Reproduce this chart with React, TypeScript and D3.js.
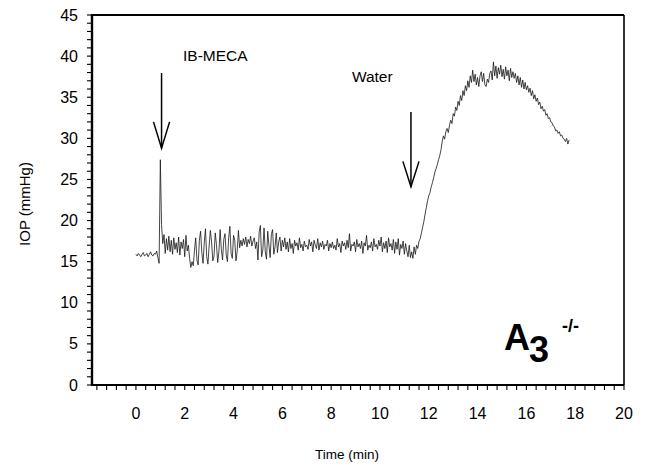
import React from 'react';
import * as d3 from 'd3';

// ---- Data (IOP trace sampled every 0.05 min from t = 0) ----
const sampleStart = 0;
const sampleStep = 0.05;

const baselineIOP = [
  15.9, 15.7, 16.0, 15.8, 15.6, 15.9, 16.1, 15.7, 15.8, 16.0,
  15.6, 15.9, 16.2, 15.8, 15.7, 16.0, 15.9, 16.3, 15.5, 14.8,
];
const injectionSpike = [27.4];
const postInjectionIOP = [
  19.5, 17.2, 18.3, 16.0, 17.8, 16.4, 18.1, 16.2, 17.6, 15.9, 17.9, 16.5,
  17.3, 16.1, 18.0, 15.8, 17.4, 16.6, 17.7, 15.6, 18.2, 16.3, 17.0, 15.4,
];
const oscillationIOP = [
  14.3, 15.0, 14.5, 16.4, 17.9, 15.2, 14.6, 17.6, 18.7, 16.1,
  14.8, 17.3, 19.0, 15.6, 14.7, 16.9, 18.8, 17.4, 15.1, 15.7,
  18.5, 17.1, 14.9, 16.2, 18.9, 16.5, 15.2, 17.7, 18.4, 15.8,
  15.0, 17.9, 19.3, 16.0, 15.4, 18.2, 17.6, 15.1, 16.3, 18.8, 16.7,
  17.6, 16.9, 17.8, 17.1, 18.0, 16.8, 17.7, 17.2, 18.1, 16.9, 17.5, 17.9, 16.6, 17.4,
  15.2, 18.6, 19.4, 15.6, 16.4, 19.1, 16.2, 15.3, 18.7, 17.0, 15.5, 18.3,
  18.9, 15.9, 16.8, 18.5, 16.1, 17.4, 18.0, 16.3, 17.6, 16.8, 17.9,
];
const steadyIOP = [
  16.5, 17.4, 16.2, 17.8, 16.6, 17.2, 16.0, 17.6, 16.9, 17.3,
  16.4, 17.9, 16.7, 17.1, 16.3, 17.5, 16.8, 17.0, 16.5, 17.7,
  16.9, 17.4, 16.2, 17.6, 17.0, 16.6, 17.8, 16.4, 17.3, 16.8,
  17.5, 16.5, 17.1, 16.9, 17.6, 16.3, 17.2, 16.7, 17.4, 16.6,
  17.0, 16.4, 17.8, 16.8, 17.2, 16.1, 17.5, 16.9, 17.3, 16.5,
  17.6, 16.7, 18.4, 16.3, 17.1, 16.9, 17.4, 16.2, 17.7, 16.8,
  17.2, 16.6, 17.5, 16.0, 17.3, 16.9, 18.2, 16.4, 17.0, 16.7,
  17.4, 16.3, 17.8, 16.8, 17.1, 16.5, 17.6, 16.9, 18.0, 16.2,
  17.3, 16.6, 17.5, 16.1, 17.9, 16.8, 17.2, 16.4, 17.7, 16.0,
  17.4, 16.5, 17.8, 15.8, 17.1, 16.6, 17.5, 15.9, 17.2, 16.3,
  15.6, 17.0, 15.5,
];
const waterLoadIOP = [
  16.2, 15.4, 16.8, 15.9, 17.0, 16.6, 17.5,
  17.8, 18.5, 19.2, 19.9, 20.8, 21.6, 22.4, 23.0,
  23.4, 24.1, 24.6, 25.2, 25.9, 26.3, 26.8, 27.4, 27.9, 28.6,
  29.6, 30.3, 29.9, 30.8, 31.2, 30.7, 31.6, 32.2, 31.8, 33.0,
  32.7, 33.8, 33.4, 34.5, 34.0, 35.2, 34.6, 35.8, 35.2, 36.4,
  35.8, 37.0, 36.2, 37.6, 36.8, 38.3, 36.9, 37.8, 36.5, 37.4,
  36.3, 37.6, 38.1, 36.9, 37.9, 36.5, 36.3, 37.2, 36.8, 37.9,
  38.2, 37.1, 39.3, 37.6, 38.8, 37.3, 38.6, 37.8, 38.9, 37.5,
  38.4, 37.2, 38.7, 37.6, 38.3, 37.0, 38.5, 37.4, 38.1, 37.3,
  37.9, 36.8, 37.6, 36.5, 37.4, 36.2, 37.1, 36.0, 36.8, 35.9,
  36.4, 35.6, 36.1, 35.2, 35.8, 34.8, 35.3, 34.5, 34.9, 34.1,
  34.4, 33.6, 33.9, 33.3, 33.5, 32.8, 33.0, 32.4, 32.5, 32.0,
  31.9, 31.5, 31.4, 30.9, 31.0, 30.6, 30.8, 30.3, 30.4, 30.0,
  29.9, 29.6, 30.0, 29.3, 29.8,
];

const xTickLabels = [0, 2, 4, 6, 8, 10, 12, 14, 16, 18, 20];
const yTickLabels = [0, 5, 10, 15, 20, 25, 30, 35, 40, 45];

const annotations = [
  { label: 'IB-MECA', t: 1.05, top: 37.95, tip: 28.8, headStart: 32.0, textT: 1.93, textV: 39.4 },
  { label: 'Water', t: 11.27, top: 33.2, tip: 24.1, headStart: 27.2, textT: 8.85, textV: 36.8 },
];

const W = 648;
const H = 468;
const FONT = '"Liberation Sans", Arial, Helvetica, sans-serif';

export default function App() {
  const x = d3.scaleLinear().domain([-1.8, 20]).range([92, 624]);
  const y = d3.scaleLinear().domain([0, 45]).range([385, 15]);

  const values = [
    ...baselineIOP,
    ...injectionSpike,
    ...postInjectionIOP,
    ...oscillationIOP,
    ...steadyIOP,
    ...waterLoadIOP,
  ];
  const points: [number, number][] = values.map((v, i) => [sampleStart + i * sampleStep, v]);
  const line = d3
    .line<[number, number]>()
    .x((d) => x(d[0]))
    .y((d) => y(d[1]));

  const xMinor = d3.range(-4, 51).map((i) => +(i * 0.4).toFixed(2));
  const yMinor = d3.range(0, 46);

  return (
    <svg
      width={W}
      height={H}
      style={{ position: 'absolute', left: 0, top: 0, background: '#fff' }}
      fontFamily={FONT}
    >
      <rect x={0} y={0} width={W} height={H} fill="#fff" />

      {/* trace */}
      <path d={line(points) || ''} fill="none" stroke="#151515" strokeWidth={0.8} strokeLinejoin="round" />

      {/* frame */}
      <line x1={x(-1.8)} x2={x(20)} y1={y(45)} y2={y(45)} stroke="#000" strokeWidth={2} />
      <line x1={x(20)} x2={x(20)} y1={y(45)} y2={y(0)} stroke="#000" strokeWidth={1.6} />
      <line x1={x(-1.8)} x2={x(20)} y1={y(0)} y2={y(0)} stroke="#000" strokeWidth={2.2} />
      <line x1={x(-1.8)} x2={x(-1.8)} y1={y(45) - 1} y2={y(0) + 1} stroke="#000" strokeWidth={2.4} />

      {/* x ticks */}
      {xMinor.map((t) => (
        <line key={'xt' + t} x1={x(t)} x2={x(t)} y1={y(0)} y2={y(0) + 5} stroke="#000" strokeWidth={1.1} />
      ))}
      {xTickLabels.map((t) => (
        <text key={'xl' + t} x={x(t)} y={419} textAnchor="middle" fontSize={16}>
          {t}
        </text>
      ))}

      {/* y ticks */}
      {yMinor.map((v) => (
        <line key={'yt' + v} x1={x(-1.8) - 5} x2={x(-1.8)} y1={y(v)} y2={y(v)} stroke="#000" strokeWidth={1.1} />
      ))}
      {yTickLabels.map((v) => (
        <text key={'yl' + v} x={78} y={y(v) + 5.5} textAnchor="end" fontSize={16}>
          {v}
        </text>
      ))}

      {/* axis titles */}
      <text x={347} y={459} textAnchor="middle" fontSize={13.5}>
        Time (min)
      </text>
      <text transform={`translate(30, 204) rotate(-90)`} textAnchor="middle" fontSize={15}>
        IOP (mmHg)
      </text>

      {/* annotations */}
      {annotations.map((a) => (
        <g key={a.label}>
          <line x1={x(a.t)} x2={x(a.t)} y1={y(a.top)} y2={y(a.tip)} stroke="#000" strokeWidth={1.5} />
          <polyline
            points={`${x(a.t - 0.33)},${y(a.headStart)} ${x(a.t)},${y(a.tip)} ${x(a.t + 0.33)},${y(a.headStart)}`}
            fill="none"
            stroke="#000"
            strokeWidth={1.5}
          />
          <text x={x(a.textT)} y={y(a.textV)} fontSize={15.5}>
            {a.label}
          </text>
        </g>
      ))}

      {/* genotype label */}
      <text x={504} y={350} fontSize={36} fontWeight="bold">
        A
      </text>
      <text x={529} y={362} fontSize={36} fontWeight="bold">
        3
      </text>
      <text x={562} y={332} fontSize={18} fontWeight="bold">
        -/-
      </text>
    </svg>
  );
}
